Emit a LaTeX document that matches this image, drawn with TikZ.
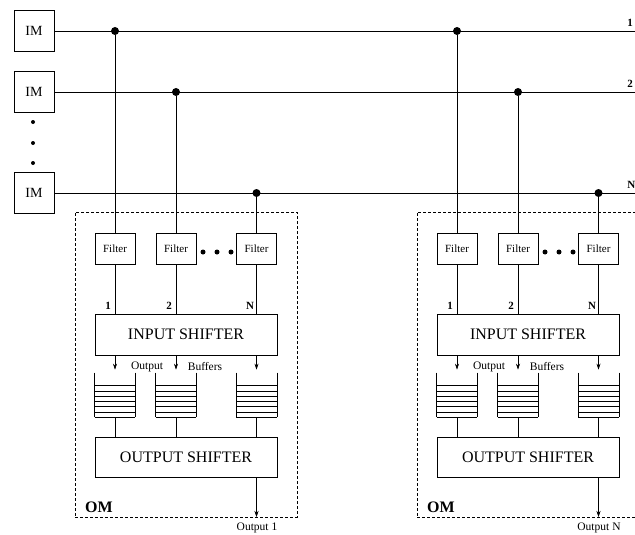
\documentclass[tikz,border=0pt]{standalone}
\usepackage{fontspec}
\setmainfont{Liberation Serif}
\usetikzlibrary{arrows.meta,calc}
\begin{document}
\begin{tikzpicture}[x=1pt,y=-1pt,line width=0.6pt]
\tikzset{
 imbox/.style={draw, minimum width=40pt, minimum height=41pt, inner sep=0pt, font=\fontsize{14}{14}\selectfont},
 filt/.style={draw, minimum width=40pt, minimum height=31pt, inner sep=0pt, font=\fontsize{11}{11}\selectfont},
 shiftbox/.style={draw, minimum width=182pt, minimum height=41pt, inner sep=0pt, font=\fontsize{16}{16}\selectfont},
 junc/.style={circle, fill, inner sep=0pt, minimum size=8pt},
 sdot/.style={circle, fill, inner sep=0pt, minimum size=5pt},
 vdot/.style={circle, fill, inner sep=0pt, minimum size=4pt},
 buf/.style={minimum width=40pt, minimum height=44pt, inner sep=0pt},
 lab/.style={font=\fontsize{11.5}{11.5}\selectfont, inner sep=0pt},
 numlab/.style={font=\fontsize{11}{11}\selectfont\bfseries, inner sep=0pt},
 omframe/.style={draw, dash pattern=on 3pt off 2pt, minimum width=222pt, minimum height=305pt, inner sep=0pt},
 arr/.style={-{Stealth[length=6pt,width=4pt]}},
}
\useasboundingbox (0,0) rectangle (635,535);
% IM boxes
\node[imbox] (im1) at (34,31) {IM};
\node[imbox] (im2) at (34,92) {IM};
\node[imbox] (im3) at (34,193) {IM};
\node[vdot] (v1) at (33,122) {};
\node[vdot] (v2) at (33,143) {};
\node[vdot] (v3) at (33,163) {};
% right ends
\coordinate (r1) at (645,31);
\coordinate (r2) at (645,92);
\coordinate (r3) at (645,193);
\draw (im1.east) -- (r1);
\draw (im2.east) -- (r2);
\draw[line width=0.8pt] (im3.east) -- (r3);
\node[numlab, anchor=south west] (l1) at (627,27) {1};
\node[numlab, anchor=south west] (l2) at (627,88) {2};
\node[numlab, anchor=south west] (l3) at (627,189) {N};
% junctions
\node[junc] (j11) at (115,31) {};
\node[junc] (j12) at (457,31) {};
\node[junc] (j21) at (176,92) {};
\node[junc] (j22) at (518,92) {};
\node[junc] (j31) at (256.5,193) {};
\node[junc] (j32) at (598.5,193) {};
% modules
\foreach \k/\dx/\o in {a/0/1, b/342/N} {
\begin{scope}[xshift=\dx pt]
 \node[omframe] (m\k) at (186,364.5) {};
 \node[filt] (f\k1) at (115,249) {Filter};
 \node[filt] (f\k2) at (176,249) {Filter};
 \node[filt] (f\k3) at (256.5,249) {Filter};
 \node[sdot] (d\k1) at (203,252) {};
 \node[sdot] (d\k2) at (217,252) {};
 \node[sdot] (d\k3) at (231,252) {};
 \node[shiftbox] (is\k) at (186,334.5) {INPUT SHIFTER};
 \draw (f\k1.south) -- (f\k1.south |- is\k.north);
 \draw (f\k2.south) -- (f\k2.south |- is\k.north);
 \draw (f\k3.south) -- (f\k3.south |- is\k.north);
 \node[numlab] (n\k1) at (108,306) {1};
 \node[numlab] (n\k2) at (169,306) {2};
 \node[numlab] (n\k3) at (250,306) {N};
 \node[buf] (b\k1) at (115,395) {};
 \node[buf] (b\k2) at (176,395) {};
 \node[buf] (b\k3) at (256.5,395) {};
 \foreach \q in {1,2,3} {
   \draw (b\k\q.north west) -- (b\k\q.south west);
   \draw (b\k\q.north east) -- (b\k\q.south east);
   \foreach \yy in {0,5.3,...,32} {
     \draw ([yshift=\yy pt]b\k\q.south west) -- ([yshift=\yy pt]b\k\q.south east);
   }
   \draw[arr] (is\k.south -| b\k\q) -- ([yshift=3pt]b\k\q.north);
 }
 \node[lab] (ol\k) at (147,367) {Output};
 \node[lab] (bl\k) at (205,367) {Buffers};
 \node[shiftbox, minimum height=40pt] (os\k) at (186,457) {OUTPUT SHIFTER};
 \draw (b\k1.south) -- (b\k1.south |- os\k.north);
 \draw (b\k2.south) -- (b\k2.south |- os\k.north);
 \draw (b\k3.south) -- (b\k3.south |- os\k.north);
 \coordinate (out\k) at (256.5,517);
 \draw[arr] (os\k.south -| out\k) -- (out\k);
 \node[font=\fontsize{16}{16}\selectfont\bfseries, inner sep=0pt] (om\k) at (99,507) {OM};
 \node[font=\fontsize{11.5}{11.5}\selectfont, inner sep=0pt] (ot\k) at (257,528) {Output \o};
\end{scope}
}
% taps
\draw (j11) -- (j11 |- fa1.north);
\draw (j21) -- (j21 |- fa2.north);
\draw (j31) -- (j31 |- fa3.north);
\draw (j12) -- (j12 |- fb1.north);
\draw (j22) -- (j22 |- fb2.north);
\draw (j32) -- (j32 |- fb3.north);
\end{tikzpicture}
\end{document}
